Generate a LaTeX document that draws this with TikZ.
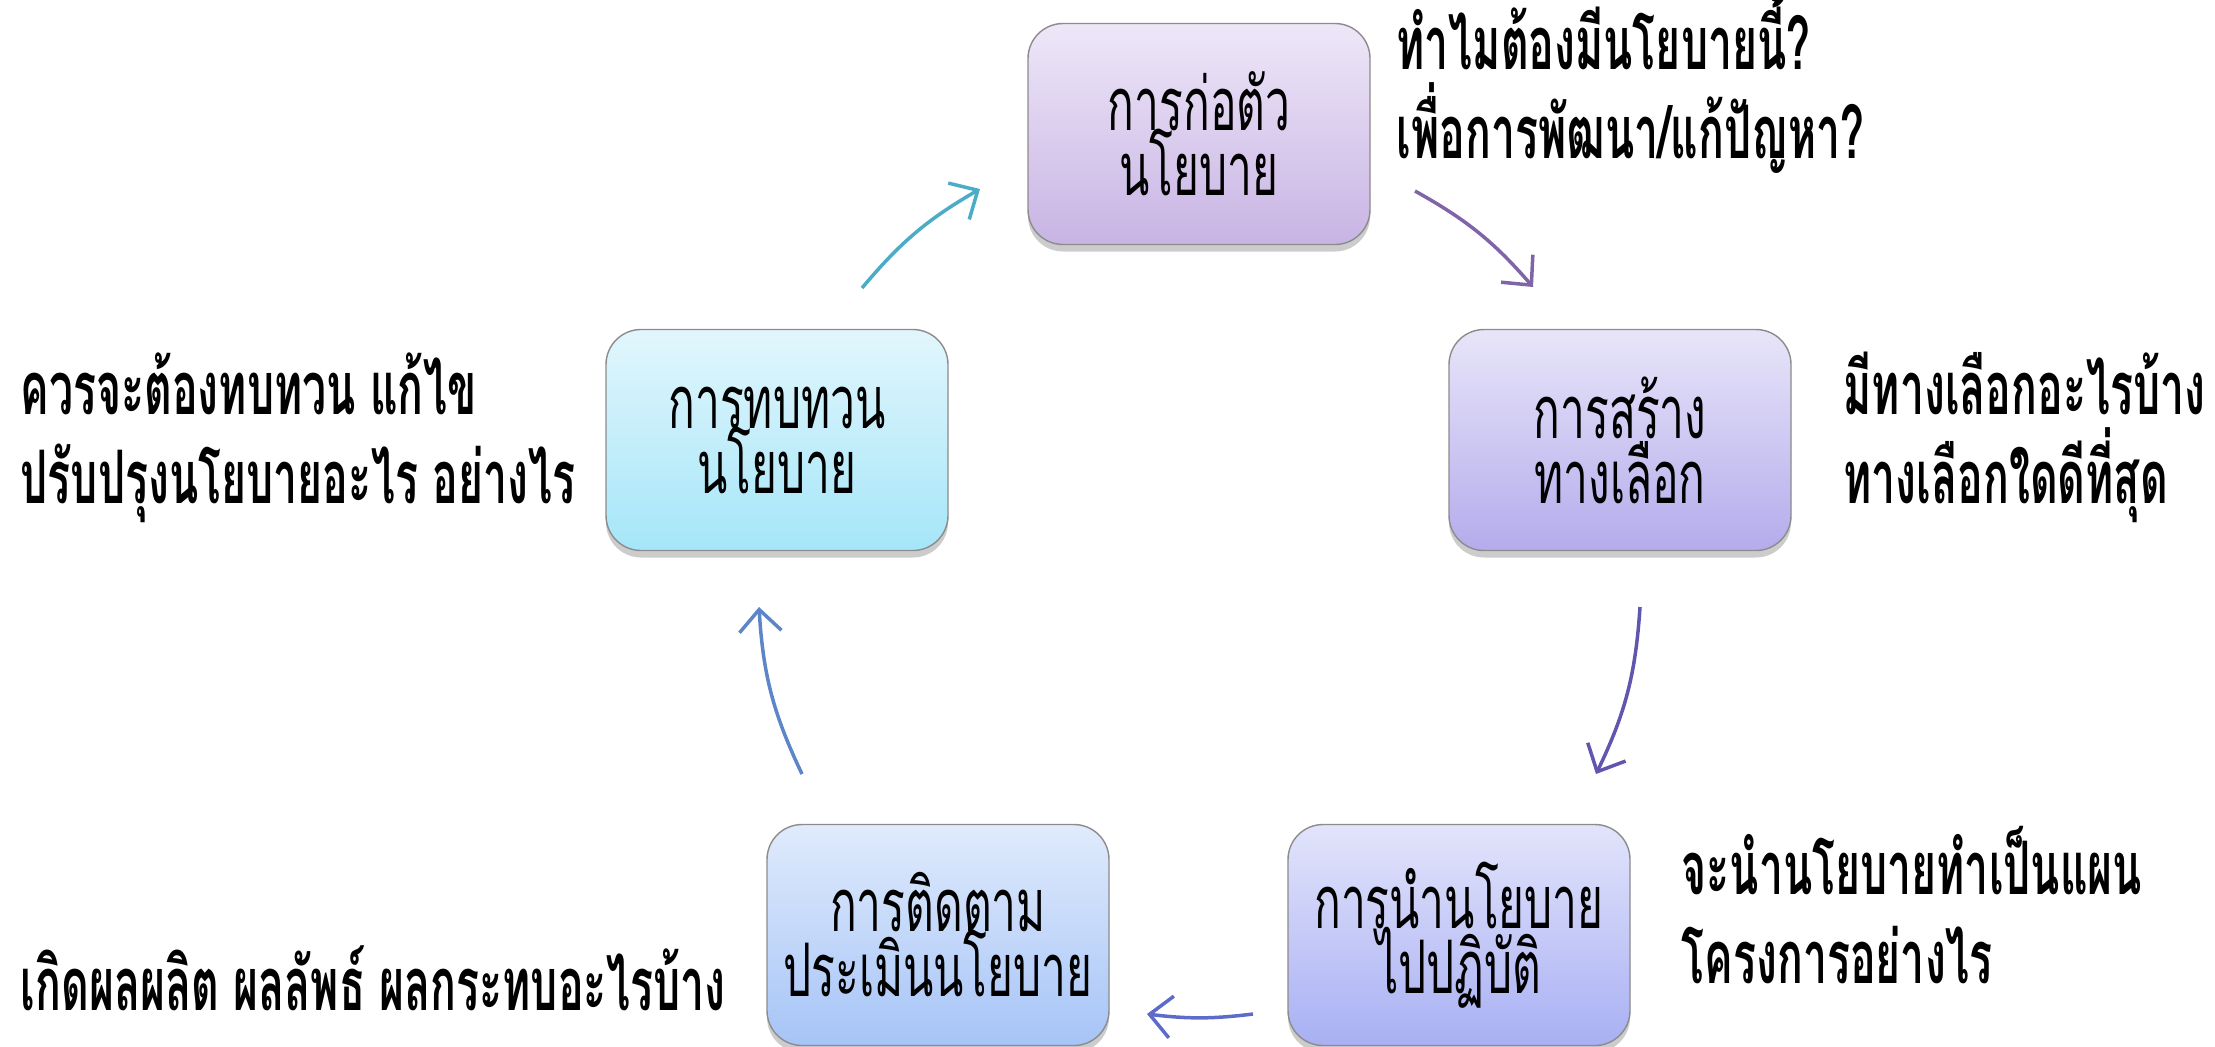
\documentclass[tikz,border=0pt]{standalone}
\usepackage{fontspec}
\newfontfamily\thai[Script=Thai,FakeStretch=0.6]{Loma}
\newfontfamily\thainote[Script=Thai,FakeStretch=0.58]{Loma}
\newcommand\tightlines{\lineskiplimit=-50pt\relax\lineskip=0pt\relax}
\usetikzlibrary{arrows.meta,shadows}
\definecolor{p1t}{RGB}{238,231,248}
\definecolor{p1b}{RGB}{200,180,228}
\definecolor{p2t}{RGB}{232,229,249}
\definecolor{p2b}{RGB}{180,172,236}
\definecolor{p3t}{RGB}{226,228,251}
\definecolor{p3b}{RGB}{168,176,243}
\definecolor{p4t}{RGB}{224,235,252}
\definecolor{p4b}{RGB}{166,196,247}
\definecolor{p5t}{RGB}{226,246,252}
\definecolor{p5b}{RGB}{165,230,249}
\definecolor{a1c}{RGB}{128,100,168}
\definecolor{a2c}{RGB}{96,86,176}
\definecolor{a3c}{RGB}{92,108,200}
\definecolor{a4c}{RGB}{92,134,200}
\definecolor{a5c}{RGB}{75,172,198}
\begin{document}
\begin{tikzpicture}[x=0.1mm,y=-0.1mm,
  stage/.style={draw=black!45, line width=0.4pt, rounded corners=3.5mm,
    minimum width=34.2mm, minimum height=22.1mm, align=center, inner sep=0pt,
    font=\thai\fontsize{21}{18.5}\selectfont\tightlines,
    drop shadow={opacity=0.4, shadow xshift=0pt, shadow yshift=-0.7mm}},
  note/.style={anchor=west, align=left, inner sep=0pt,
    font=\thainote\bfseries\fontsize{21}{25.3}\selectfont\tightlines},
  cyc/.style={line width=0.35mm, -{Straight Barb[length=2.2mm,width=4.2mm]}},
]
\useasboundingbox (0,0) rectangle (2215,1046);
% stages
\node[stage, top color=p1t, bottom color=p1b] (form) at (1199,134) {การก่อตัว\\นโยบาย};
\node[stage, top color=p2t, bottom color=p2b] (alt) at (1620,440) {การสร้าง\\ทางเลือก};
\node[stage, top color=p3t, bottom color=p3b] (impl) at (1459,935) {การนำนโยบาย\\ไปปฏิบัติ};
\node[stage, top color=p4t, bottom color=p4b] (eval) at (938,935) {การติดตาม\\ประเมินนโยบาย};
\node[stage, top color=p5t, bottom color=p5b] (rev) at (777,440) {การทบทวน\\นโยบาย};
% notes
\node[note] (qform) at (1396,82) {ทำไมต้องมีนโยบายนี้?\\เพื่อการพัฒนา/แก้ปัญหา?};
\node[note] (qalt) at (1843,437) {มีทางเลือกอะไรบ้าง\\ทางเลือกใดดีที่สุด};
\node[note] (qimpl) at (1681,905) {จะนำนโยบายทำเป็นแผน\\โครงการอย่างไร};
\node[note] (qeval) at (20,978) {เกิดผลผลิต ผลลัพธ์ ผลกระทบอะไรบ้าง};
\node[note] (qrev) at (20,438) {ควรจะต้องทบทวน แก้ไข\\ปรับปรุงนโยบายอะไร อย่างไร};
% arrow ends on the cycle
\coordinate (a1s) at (1415,191); \coordinate (a1e) at (1533,287);
\coordinate (a2s) at (1640,607); \coordinate (a2e) at (1596,774);
\coordinate (a3s) at (1253,1014); \coordinate (a3e) at (1147,1014);
\coordinate (a4s) at (802,774); \coordinate (a4e) at (759,607);
\coordinate (a5s) at (862,288); \coordinate (a5e) at (980,189);
\draw[cyc, a1c] (a1s) to[bend left=10] (a1e);
\draw[cyc, a2c] (a2s) to[bend left=11] (a2e);
\draw[cyc, a3c] (a3s) to[bend left=7] (a3e);
\draw[cyc, a4c] (a4s) to[bend left=11] (a4e);
\draw[cyc, a5c] (a5s) to[bend left=10] (a5e);
\end{tikzpicture}
\end{document}
